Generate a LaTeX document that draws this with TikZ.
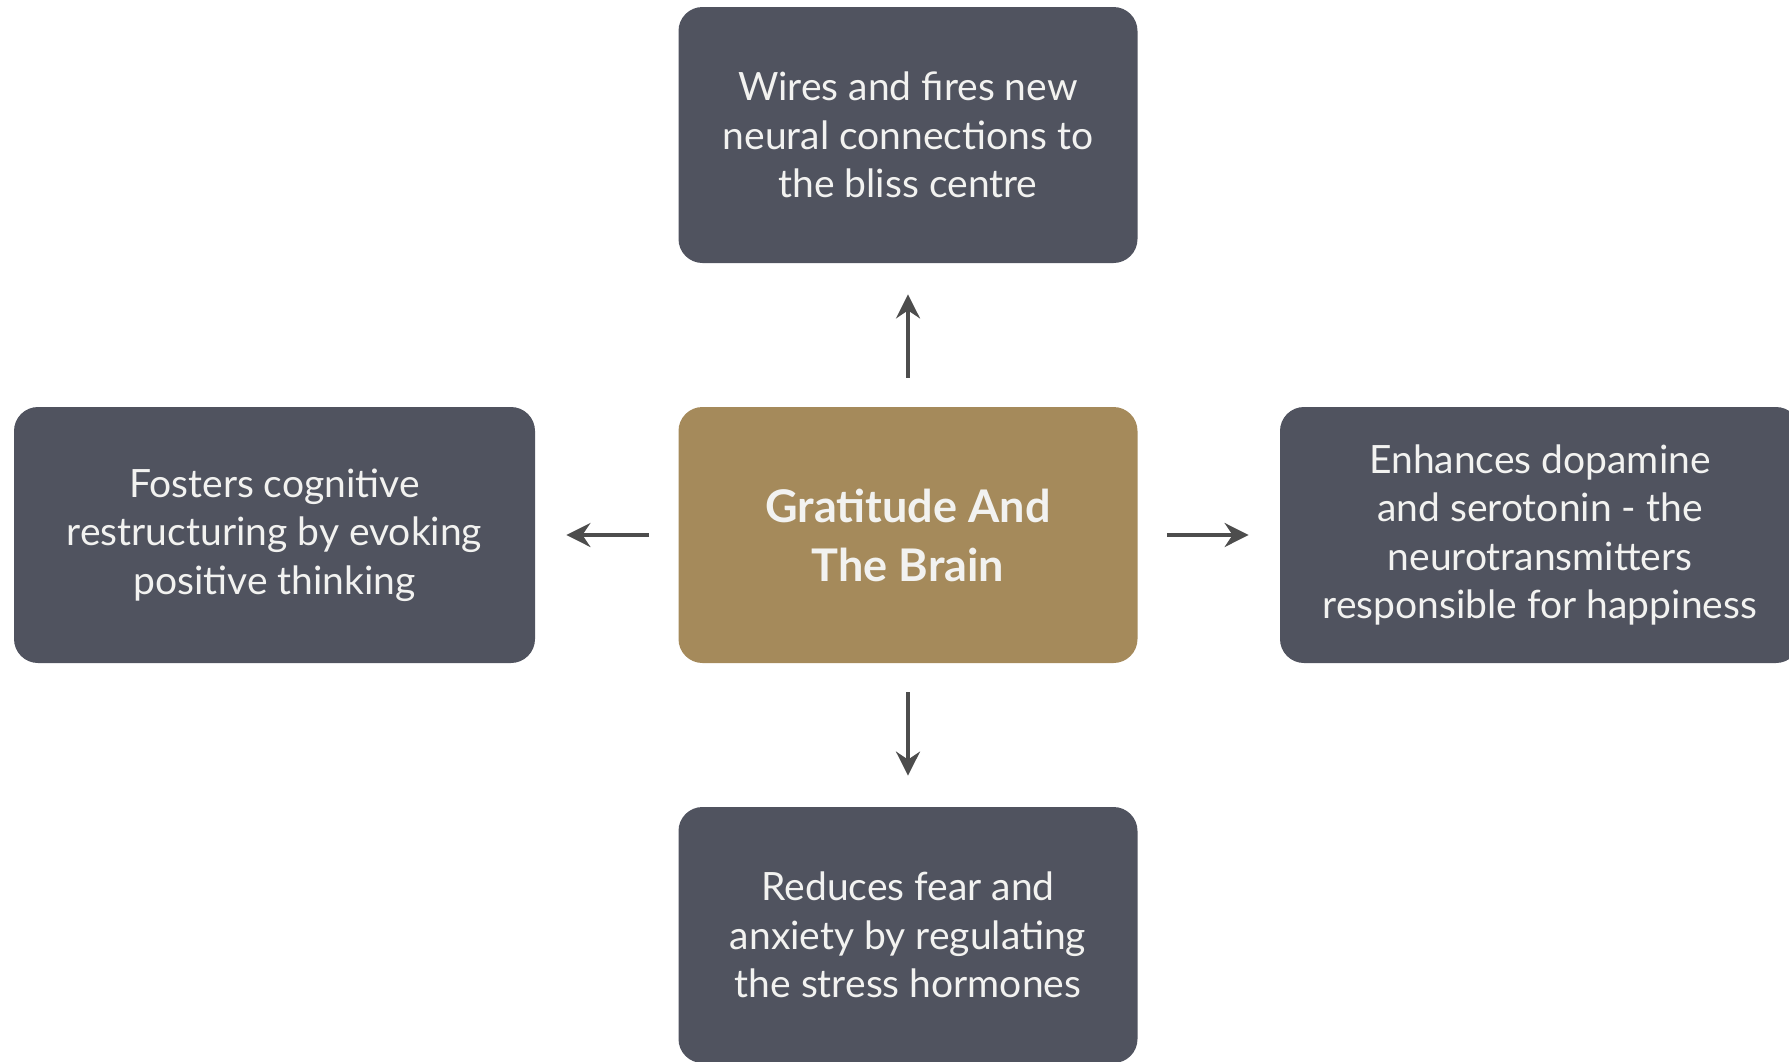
\documentclass[tikz,border=0pt]{standalone}
\usepackage{fontspec}
\setmainfont{Lato}
\usetikzlibrary{arrows.meta}

\definecolor{slate}{HTML}{50535F}
\definecolor{gold}{HTML}{A58A5B}
\definecolor{arrowgray}{HTML}{4D4D4D}
\definecolor{paper}{HTML}{F2F2F0}

\begin{document}
\begin{tikzpicture}[x=0.5pt,y=-0.5pt,
    box/.style={fill=slate, rounded corners=12pt, align=center, text=paper,
        minimum width=229.5pt, minimum height=128pt,
        font=\fontsize{19.5}{24.25}\selectfont},
    hubbox/.style={box, fill=gold, text=paper,
        font=\bfseries\fontsize{22.5}{29.5}\selectfont},
    link/.style={draw=arrowgray, line width=1.75pt,
        -{Stealth[length=12pt,width=12pt,inset=4pt]},
        shorten <=14.5pt, shorten >=15.5pt}]
    \useasboundingbox (0,0) rectangle (1789,1061);

    % centre and the four effects around it
    \node[hubbox] (hub) at (908,535) {Gratitude And\\The Brain};
    \node[box] (wires) at (908,135) {Wires and fires new\\neural connections to\\the bliss centre};
    \node[box, minimum width=260.5pt] (fosters) at (274.5,535) {Fosters cognitive\\restructuring by evoking\\positive thinking};
    \node[box, minimum width=260pt] (enhances) at (1540,535) {Enhances dopamine\\and serotonin - the\\neurotransmitters\\responsible for happiness};
    \node[box] (reduces) at (908,935) {Reduces fear and\\anxiety by regulating\\the stress hormones};

    \draw[link] (hub) -- (wires);
    \draw[link] (hub) -- (fosters);
    \draw[link] (hub) -- (enhances);
    \draw[link] (hub) -- (reduces);
\end{tikzpicture}
\end{document}
